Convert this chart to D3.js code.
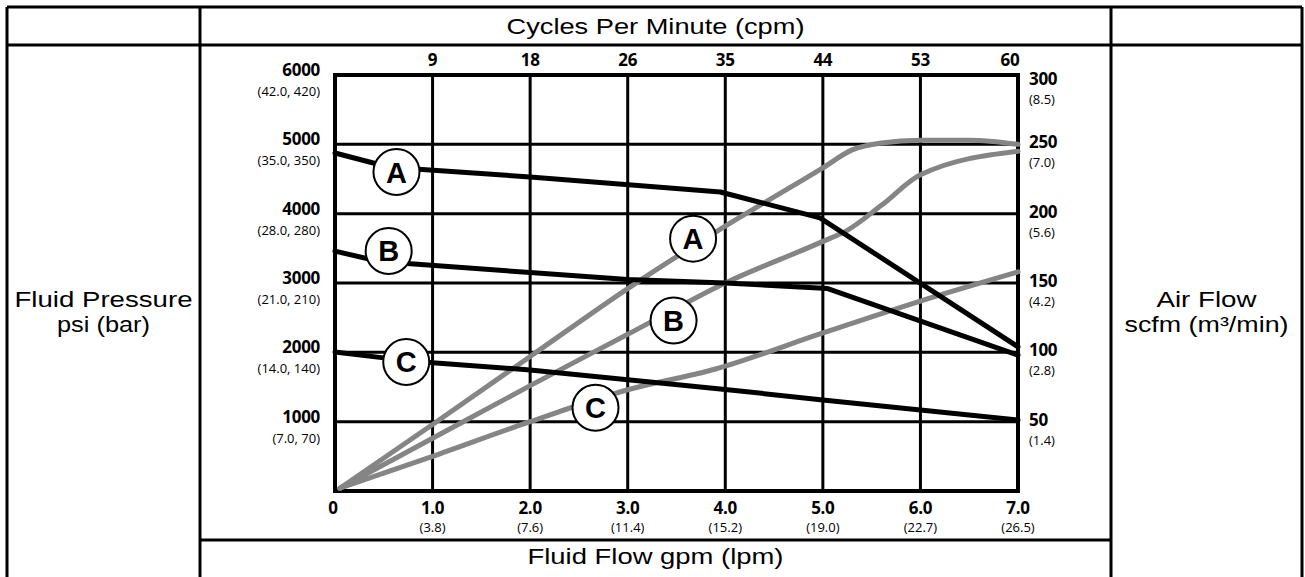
<!DOCTYPE html>
<html lang="en">
<head>
    <meta charset="UTF-8">
    <title>Pump performance</title>
    <script src="https://cdn.jsdelivr.net/npm/d3@7"></script>
    <style>
        html, body {
            margin: 0;
            padding: 0;
            background: #fff;
            overflow: hidden;
        }
        .cell-line {
            stroke: #000;
            stroke-width: 3px;
        }
        .title {
            font-family: 'Liberation Sans', Arial, sans-serif;
            font-size: 22px;
            fill: #000;
        }
        .tick-main {
            font-family: 'Open Sans', sans-serif;
            font-weight: bold;
            font-size: 17px;
            letter-spacing: -0.3px;
        }
        .tick-sub {
            font-family: 'Open Sans', sans-serif;
            font-size: 13px;
        }
        .grid {
            stroke: #000;
            stroke-width: 3px;
        }
        .curve {
            fill: none;
            stroke-width: 5px;
            stroke-linejoin: round;
            stroke-linecap: round;
        }
        .tag circle {
            fill: #fff;
            stroke: #000;
            stroke-width: 2px;
        }
        .tag text {
            font-family: 'Liberation Sans', Arial, sans-serif;
            font-weight: bold;
            font-size: 29px;
            text-anchor: middle;
        }
    </style>
</head>
<body>
<script>
    // axis values
    const flowTicks = [0, 1, 2, 3, 4, 5, 6, 7];
    const flowMain = ['0', '1.0', '2.0', '3.0', '4.0', '5.0', '6.0', '7.0'];
    const flowLpm = ['', '(3.8)', '(7.6)', '(11.4)', '(15.2)', '(19.0)', '(22.7)', '(26.5)'];
    const cpmLabels = ['', '9', '18', '26', '35', '44', '53', '60'];
    const psiTicks = [1000, 2000, 3000, 4000, 5000, 6000];
    const psiSub = ['(7.0, 70)', '(14.0, 140)', '(21.0, 210)', '(28.0, 280)', '(35.0, 350)', '(42.0, 420)'];
    const scfmTicks = [50, 100, 150, 200, 250, 300];
    const scfmSub = ['(1.4)', '(2.8)', '(4.2)', '(5.6)', '(7.0)', '(8.5)'];

    // fluid pressure curves [gpm, psi]
    const pressureA = [[0, 4875], [0.56, 4670], [2, 4530], [3.95, 4313], [4.97, 3940], [7, 2080]];
    const pressureB = [[0, 3460], [0.46, 3310], [2, 3150], [3, 3050], [4, 3000], [5.05, 2920], [7, 1960]];
    const pressureC = [[0, 2005], [0.5, 1920], [1, 1850], [2, 1745], [3, 1605], [4, 1465], [5, 1313], [6, 1168], [7, 1024]];

    // air flow curves [gpm, scfm]
    const airA = [[0.05, 2], [1, 48], [2, 97], [3, 146], [4, 191], [5, 233], [5.3, 246], [5.6, 251], [6, 253], [6.5, 253], [7, 250]];
    const airB = [[0.05, 2], [1, 38], [2, 76], [3, 113], [4, 150], [5, 180], [5.25, 188], [5.6, 206], [6, 228], [7, 245]];
    const airC = [[0.05, 2], [1, 25], [2, 50], [3, 73], [3.9, 88], [5, 114], [6, 137], [7, 158]];

    // curve tags
    const pressureTags = [['A', 0.63, 4600], ['B', 0.55, 3462], ['C', 0.73, 1861]];
    const airTags = [['A', 3.67, 182], ['B', 3.47, 123], ['C', 2.67, 60]];

    const width = 1305, height = 577;

    let svg = d3.select('body').append('svg')
        .attr('width', width)
        .attr('height', height);

    // table frame
    let frame = svg.append('g');
    [[7, 7, 1302, 7], [7, 45, 1302, 45], [200, 540, 1111, 540],
        [7, 7, 7, height], [200, 7, 200, height], [1111, 7, 1111, height], [1302, 7, 1302, height]]
        .forEach(l => frame.append('line').classed('cell-line', true)
            .attr('x1', l[0]).attr('y1', l[1]).attr('x2', l[2]).attr('y2', l[3]));

    function stretchText(x, y, txt, len) {
        return svg.append('text').classed('title', true)
            .attr('x', x).attr('y', y)
            .attr('text-anchor', 'middle')
            .attr('textLength', len)
            .attr('lengthAdjust', 'spacingAndGlyphs')
            .text(txt);
    }

    stretchText(655.5, 34, 'Cycles Per Minute (cpm)', 298);
    stretchText(655.5, 564, 'Fluid Flow gpm (lpm)', 256);
    stretchText(103.5, 307, 'Fluid Pressure', 178);
    stretchText(103.5, 332, 'psi (bar)', 93);
    stretchText(1206.5, 307, 'Air Flow', 100);
    stretchText(1206.5, 332, 'scfm (m³/min)', 164);

    let x = d3.scaleLinear().domain([0, 7]).range([335, 1018]);
    let yP = d3.scaleLinear().domain([0, 6000]).range([491, 75]);
    let yA = d3.scaleLinear().domain([0, 300]).range([491, 75]);

    let plot = svg.append('g');

    // grid
    plot.selectAll('.vgrid').data(flowTicks.slice(1, -1)).enter()
        .append('line').classed('grid', true)
        .attr('x1', d => x(d)).attr('x2', d => x(d))
        .attr('y1', yP(0)).attr('y2', yP(6000));
    plot.selectAll('.hgrid').data(psiTicks.slice(0, -1)).enter()
        .append('line').classed('grid', true)
        .attr('x1', x(0)).attr('x2', x(7))
        .attr('y1', d => yP(d)).attr('y2', d => yP(d));
    plot.append('rect')
        .attr('x', x(0)).attr('y', yP(6000))
        .attr('width', x(7) - x(0)).attr('height', yP(0) - yP(6000))
        .attr('fill', 'none').attr('stroke', '#000').attr('stroke-width', 4);

    // bottom axis labels
    let bottom = svg.append('g');
    bottom.selectAll('.bm').data(flowTicks).enter().append('text')
        .classed('tick-main', true)
        .attr('x', d => x(d) - (d === 0 ? 2 : 0)).attr('y', 514)
        .attr('text-anchor', 'middle')
        .text((d, i) => flowMain[i]);
    bottom.selectAll('.bs').data(flowTicks).enter().append('text')
        .classed('tick-sub', true)
        .attr('x', d => x(d)).attr('y', 532)
        .attr('text-anchor', 'middle')
        .text((d, i) => flowLpm[i]);

    // top cpm labels
    svg.append('g').selectAll('text').data(flowTicks).enter().append('text')
        .classed('tick-main', true)
        .attr('x', d => d === 7 ? x(d) - 8 : x(d))
        .attr('y', 66)
        .attr('text-anchor', 'middle')
        .text((d, i) => cpmLabels[i]);

    // left pressure labels
    let left = svg.append('g');
    left.selectAll('.lm').data(psiTicks).enter().append('text')
        .classed('tick-main', true)
        .attr('x', 320).attr('y', d => yP(d) + 1)
        .attr('text-anchor', 'end')
        .text(d => d);
    left.selectAll('.ls').data(psiTicks).enter().append('text')
        .classed('tick-sub', true)
        .attr('x', 320).attr('y', d => yP(d) + 21)
        .attr('text-anchor', 'end')
        .text((d, i) => psiSub[i]);

    // right air flow labels
    let right = svg.append('g');
    right.selectAll('.rm').data(scfmTicks).enter().append('text')
        .classed('tick-main', true)
        .attr('x', 1029).attr('y', d => Math.max(yA(d) + 4, yA(300) + 10))
        .text(d => d);
    right.selectAll('.rs').data(scfmTicks).enter().append('text')
        .classed('tick-sub', true)
        .attr('x', 1029).attr('y', d => Math.max(yA(d) + 4, yA(300) + 10) + 19)
        .text((d, i) => scfmSub[i]);

    // curves
    let airLine = d3.line().x(d => x(d[0])).y(d => yA(d[1])).curve(d3.curveMonotoneX);
    let pressLine = d3.line().x(d => x(d[0])).y(d => yP(d[1]));

    plot.selectAll('.air').data([airA, airB, airC]).enter()
        .append('path').classed('curve', true)
        .attr('stroke', '#858585')
        .attr('d', airLine);
    plot.selectAll('.press').data([pressureA, pressureB, pressureC]).enter()
        .append('path').classed('curve', true)
        .attr('stroke', '#000')
        .attr('d', pressLine);

    // tags
    let tags = pressureTags.map(t => [t[0], x(t[1]), yP(t[2])])
        .concat(airTags.map(t => [t[0], x(t[1]), yA(t[2])]));
    let tag = plot.selectAll('.tag').data(tags).enter()
        .append('g').classed('tag', true)
        .attr('transform', d => `translate(${d[1]},${d[2]})`);
    tag.append('circle').attr('r', 23);
    tag.append('text').attr('y', 10.5).text(d => d[0]);
</script>
</body>
</html>
